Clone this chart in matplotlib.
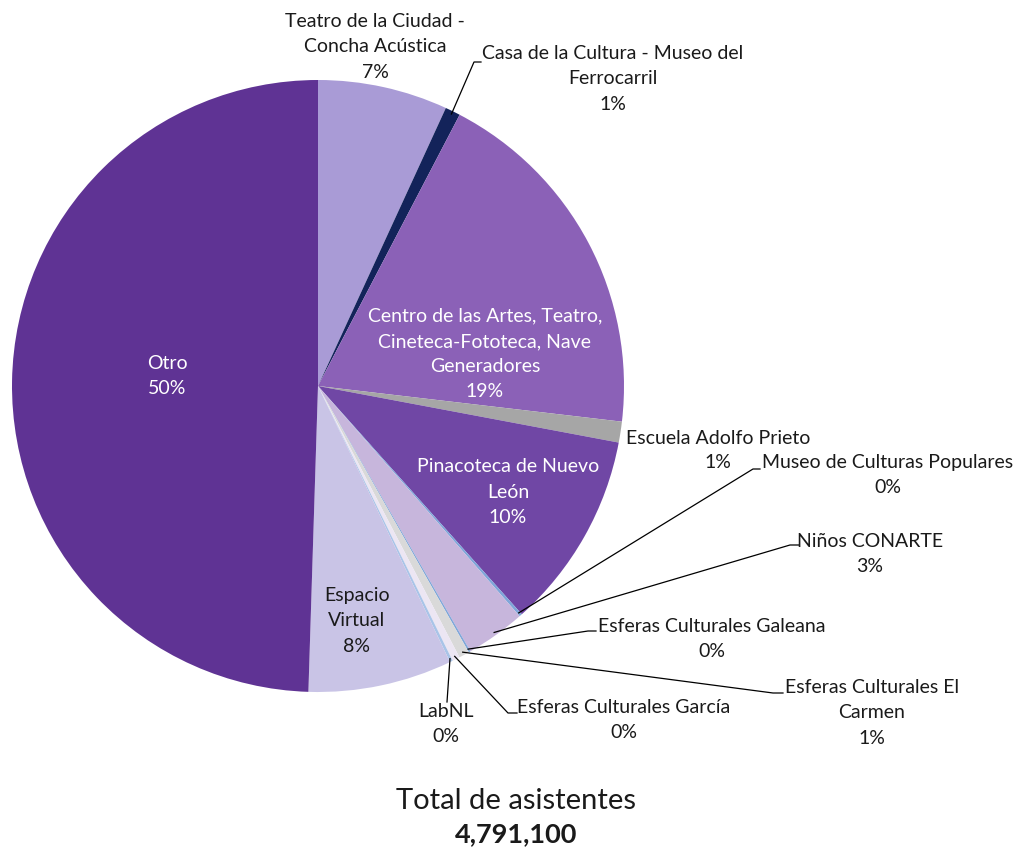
import numpy as np
import matplotlib
matplotlib.use("Agg")
from matplotlib import pyplot as plt

# slices, clockwise from 12 o'clock (percent of attendees)
names = ["Teatro de la Ciudad -\nConcha Acústica",
         "Casa de la Cultura - Museo del\nFerrocarril",
         "Centro de las Artes, Teatro,\nCineteca-Fototeca, Nave\nGeneradores",
         "Escuela Adolfo Prieto",
         "Pinacoteca de Nuevo\nLeón",
         "Museo de Culturas Populares",
         "Niños CONARTE",
         "Esferas Culturales Galeana",
         "Esferas Culturales El\nCarmen",
         "Esferas Culturales García",
         "LabNL",
         "Espacio\nVirtual",
         "Otro"]
shares = [6.86, 0.80, 19.20, 1.10, 10.44, 0.15, 3.15, 0.10, 0.55, 0.40, 0.15, 7.60, 49.50]
colors = ["#a99bd6", "#13235a", "#8b61b7", "#a6a6a6", "#7047a5", "#7fa6d9", "#c7b6dc",
          "#7fa6d9", "#d9d9d9", "#ece6f3", "#a9c4e8", "#c9c4e6", "#5f3394"]
total_label = "4,791,100"

W, H = 1018, 848
fig = plt.figure(figsize=(W / 100, H / 100), dpi=100)
ax = fig.add_axes([0, 0, 1, 1])
plt.rcParams['font.family'] = ['Lato', 'DejaVu Sans']

cx, cy, R = 318, H - 386, 306
wedges, _ = ax.pie(shares, colors=colors, startangle=90, counterclock=False,
                   center=(cx, cy), radius=R, frame=True,
                   wedgeprops=dict(linewidth=0))
ax.set_xlim(0, W)
ax.set_ylim(0, H)
ax.set_aspect("equal")
ax.axis("off")

pct = [f"{v:.0f}%" for v in shares]

def px(x, y):
    return x, H - y

def mid_point(i, frac=1.0):
    w = wedges[i]
    a = np.deg2rad((w.theta1 + w.theta2) / 2)
    return cx + R * frac * np.cos(a), cy + R * frac * np.sin(a)

fs = 14
def label(i, x, y, color="#1a1a1a"):
    ax.text(*px(x, y), names[i] + "\n" + pct[i], ha="center", va="center",
            fontsize=fs, color=color, linespacing=1.58)

# inside labels
label(2, 485, 354, "white")
label(4, 508, 492, "white")
label(11, 357, 621)
label(12, 167, 376, "white")

# outside labels without leaders
label(0, 375, 47)
# Escuela: one text per line so it does not box-clash with the Museo label
ax.text(*px(718, 438), names[3], ha="center", va="center", fontsize=fs, color="#1a1a1a")
ax.text(*px(718, 463), pct[3], ha="center", va="center", fontsize=fs, color="#1a1a1a")

# outside labels with leader lines: (slice, text centre, elbow, line end)
leaders = [
    (1, (613, 79), (474, 62), (481, 62)),
    (5, (888, 475), (753, 469), (760, 469)),
    (6, (870, 554), (790, 545), (799, 545)),
    (7, (712, 639), (588, 631), (596, 631)),
    (8, (872, 713), (773, 693), (783, 693)),
    (9, (624, 720), (508, 713), (517, 713)),
]
for i, txt, elbow, end in leaders:
    label(i, *txt)
    x0, y0 = mid_point(i, 0.99)
    ax.plot([x0, elbow[0], end[0]], [y0, H - elbow[1], H - end[1]],
            color="black", lw=0.9)

# LabNL: short leader straight down
x0, y0 = mid_point(10, 0.99)
ax.plot([x0, 447], [y0, H - 702], color="black", lw=0.9)
label(10, 446, 724)

ax.text(*px(516, 801), "Total de asistentes", ha="center", va="center",
        fontsize=21, color="#1a1a1a")
ax.text(*px(516, 834), total_label, ha="center", va="center",
        fontsize=19.5, fontweight="bold", color="#1a1a1a")

fig.savefig("out.png", dpi=100)
